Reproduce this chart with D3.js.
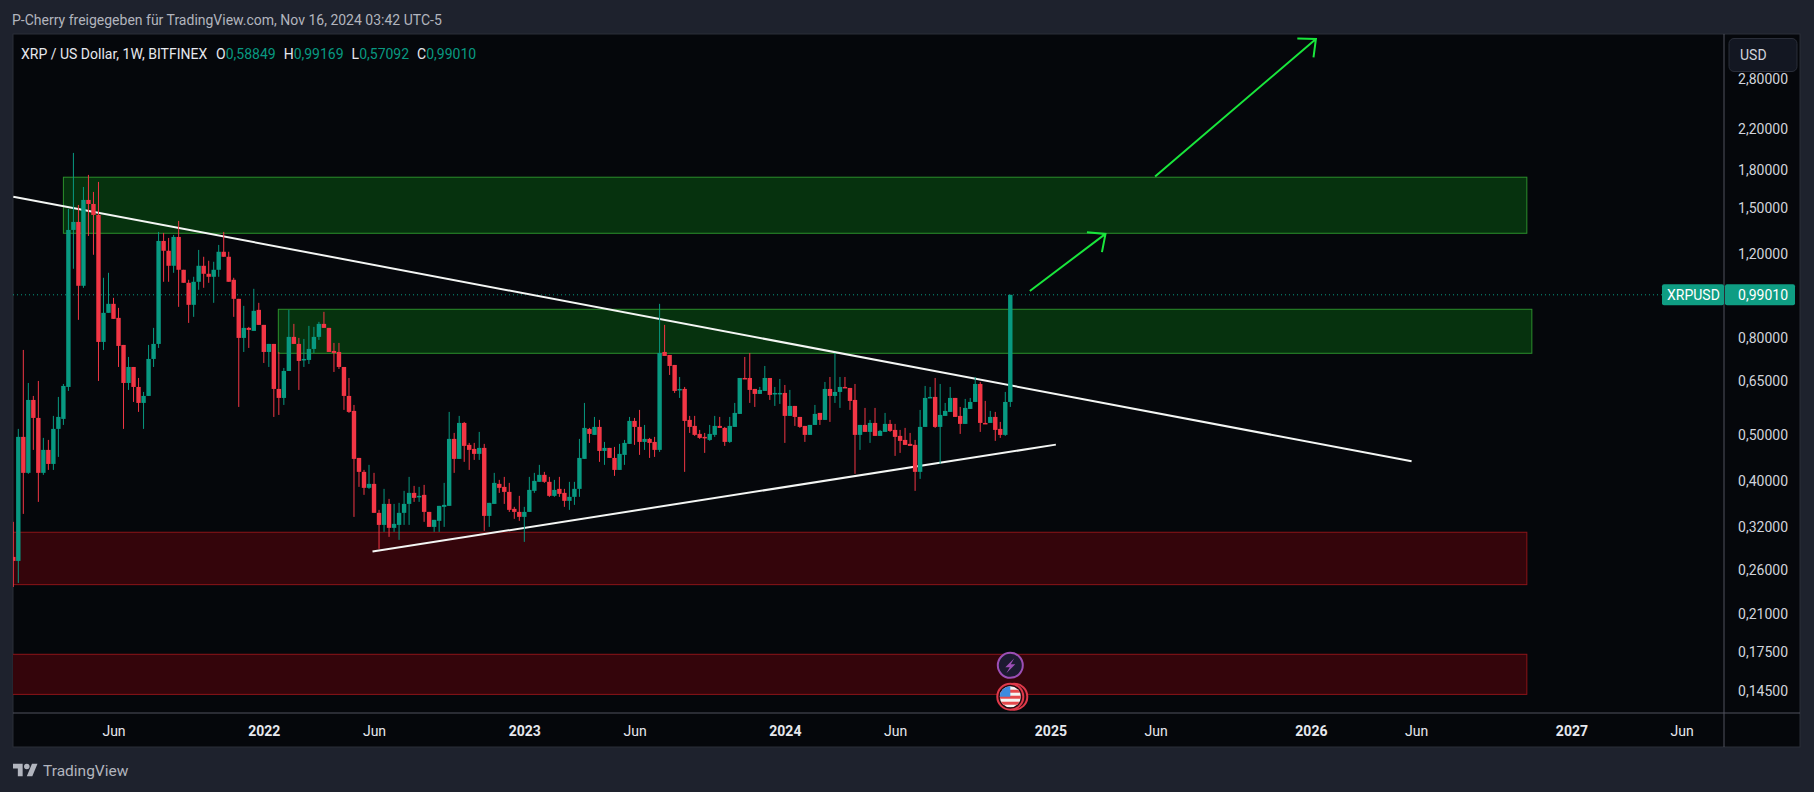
<!DOCTYPE html>
<html>
<head>
<meta charset="utf-8">
<style>
  html, body { margin: 0; padding: 0; background: #1e222d; overflow: hidden; }
  text { font-family: Roboto, sans-serif; }
</style>
</head>
<body>
<div id="chart"></div>
<script src="https://cdn.jsdelivr.net/npm/d3@7"></script>
<script>
// weekly XRPUSD bars (one entry per week)
const opens = [.2771,.2718,.4952,.4161,.5921,.5428,.4161,.4650,.4345,.5147,.5402,.6305,1.3476,1.4008,1.0285,1.558,1.528,1.449,.7839,.9023,
  .9425,.8807,.7726,.6428,.6945,.6305,.5836,.6037,.7220,.7764,1.2777,1.2184,1.1330,1.3027,1.1113,1.0435,.9380,1.0486,1.1330,1.0900,
  1.0743,1.1113,1.2125,1.1835,1.0588,.9656,.7993,.8390,.8269,.9155,.8513,.7468,.7764,.6245,.5979,.6812,.8032,.7764,.7185,.7185,
  .7578,.8032,.8554,.8390,.7505,.7468,.6945,.6037,.5615,.4473,.4181,.3870,.3945,.3429,.3235,.3581,.3189,.3235,.3429,.3581,
  .3777,.3705,.3741,.3445,.3204,.3299,.3530,.3547,.4904,.4452,.5298,.4764,.4672,.4561,.4695,.3379,.3581,.3945,.3888,.3795,
  .3496,.3445,.3363,.3445,.3814,.3984,.4121,.3984,.3723,.3851,.3777,.3634,.3705,.3851,.4452,.5147,.5000,.5197,.4627,.4695,
  .4473,.4221,.4539,.4787,.5350,.5197,.4833,.4904,.4833,.4650,.7468,.7361,.7013,.6215,.6245,.5376,.5222,.5024,.4952,.4880,
  .5000,.5222,.5172,.4833,.5197,.5534,.6585,.6585,.6245,.6096,.6185,.6585,.6096,.6110,.6125,.5481,.5752,.5454,.5222,.5000,
  .5247,.5561,.5376,.6245,.6037,.6155,.6305,.6275,.5921,.5000,.5247,.5073,.5298,.4976,.5073,.5273,.5122,.4976,.4880,.4787,
  .4764,.4181,.5197,.5979,.6008,.5197,.5481,.5588,.5979,.5481,.5273,.5669,.5864,.6397,.5298,.5298,.5454,.5147,.5000,.5864];
const highs = [.3283,.5147,.7541,.6428,.6037,.6491,.4928,.4880,.5481,.6008,.6397,1.4917,1.956,1.5207,1.659,1.7585,1.6195,1.700,1.0691,1.0952,
  .9703,.9244,.7726,.7290,.6945,.6585,.6155,.7726,.8390,1.3346,1.3282,1.2964,1.3153,1.4076,1.1113,1.0588,1.0743,1.2233,1.1835,1.1608,
  1.1552,1.2533,1.3346,1.2125,1.0691,.9656,.9334,.8431,1.0136,.9471,.8513,.7764,.7764,.7468,.6912,.9155,.8554,.7993,.7954,.8472,
  .8431,.8638,.9067,.8390,.7802,.7802,.6945,.6585,.5780,.4473,.4221,.4325,.4161,.3479,.3851,.3669,.3581,.3599,.3814,.4081,
  .3907,.3888,.3926,.3445,.3315,.3547,.3964,.5588,.5048,.5481,.5324,.4810,.4810,.5073,.4787,.3599,.4161,.4022,.4081,.3964,
  .3530,.3723,.3530,.4081,.4161,.4325,.4181,.4081,.4022,.4081,.3851,.3984,.3984,.4904,.5836,.5172,.5454,.5376,.4833,.4695,
  .4718,.4787,.4880,.5454,.5428,.5642,.5247,.4928,.4952,.9425,.8513,.7361,.7013,.6617,.6305,.5481,.5481,.5122,.5048,.5247,
  .5481,.5454,.5197,.5454,.5836,.6585,.7290,.7432,.6245,.6305,.6979,.6585,.6305,.6554,.6366,.6215,.5752,.5454,.5222,.5247,
  .5780,.5561,.6459,.6617,.7432,.6617,.6617,.6275,.6397,.5247,.5697,.5376,.5697,.5122,.5561,.5376,.5273,.5122,.5172,.5048,
  .4880,.5642,.6336,.6305,.6585,.6397,.5836,.6305,.5979,.5724,.5950,.5979,.6617,.6459,.5893,.5615,.5588,.5324,.6155,.9846];
const lows = [.2396,.2443,.3412,.4141,.4650,.3616,.4121,.4221,.4221,.4495,.5247,.6185,1.1167,.8722,1.0185,1.309,1.195,.6491,.7541,.9023,
  .8764,.6945,.5147,.6215,.5864,.5588,.5147,.6037,.6945,.7615,1.0486,1.0486,1.0952,.9289,1.0435,.8596,.8850,1.0087,1.0185,1.0435,
  .9471,1.0743,1.1835,1.0486,.8850,.5724,.7468,.7615,.8269,.8513,.7081,.6945,.5454,.5507,.5780,.6812,.7764,.6215,.6945,.7047,
  .7432,.7916,.8390,.7468,.6779,.6878,.5642,.5561,.3363,.3888,.3741,.3851,.3429,.2881,.3128,.3053,.3128,.3009,.3235,.3235,
  .3616,.3616,.3283,.3204,.3128,.3128,.3204,.3547,.4161,.4452,.4388,.4221,.4430,.4430,.3143,.3204,.3581,.3777,.3581,.3445,
  .3331,.3299,.2980,.3445,.3777,.3984,.3964,.3705,.3705,.3705,.3530,.3479,.3564,.3705,.4452,.4810,.5000,.4388,.4325,.4473,
  .4101,.4221,.4325,.4787,.4764,.4539,.4650,.4473,.4495,.4605,.7325,.6682,.6125,.5979,.4181,.5048,.4976,.4904,.4583,.4857,
  .4952,.5172,.4741,.4810,.5197,.5534,.6554,.5836,.5724,.6096,.6185,.5921,.5752,.5808,.4810,.5481,.5222,.5172,.4833,.5000,
  .5247,.5247,.5376,.5324,.5836,.5697,.6275,.5642,.4141,.4650,.5073,.4810,.4976,.4976,.5073,.5073,.4517,.4583,.4764,.4741,
  .3814,.4042,.5197,.5979,.5172,.4345,.5481,.5588,.5454,.5024,.5273,.5669,.5864,.5073,.5273,.5298,.4857,.4928,.4976,.5724];
const closes = [.2718,.4952,.4161,.5921,.5428,.4161,.4650,.4345,.5147,.5454,.6336,1.3476,1.4008,1.0285,1.558,1.528,1.449,.7839,.9023,.9425,
  .8764,.7689,.6428,.6945,.6305,.5836,.6037,.7220,.7764,1.2777,1.2184,1.1330,1.3027,1.1113,1.0435,.9380,1.0486,1.1330,1.0900,1.0743,
  1.1113,1.2125,1.1835,1.0486,.9656,.7993,.8390,.8309,.9111,.8513,.7468,.7764,.6245,.5979,.6812,.8032,.7764,.7150,.7220,.7578,
  .8032,.8554,.8390,.7468,.7432,.6945,.6037,.5588,.4452,.4181,.3870,.3945,.3429,.3235,.3581,.3189,.3251,.3429,.3581,.3777,
  .3687,.3723,.3445,.3204,.3315,.3547,.3564,.4904,.4452,.5298,.4741,.4650,.4561,.4695,.3379,.3599,.3964,.3870,.3795,.3479,
  .3445,.3363,.3445,.3832,.4003,.4121,.3984,.3723,.3832,.3759,.3634,.3705,.3851,.4473,.5172,.5024,.5197,.4627,.4695,.4473,
  .4221,.4561,.4810,.5350,.5197,.4833,.4904,.4810,.4650,.7432,.7325,.6979,.6185,.6245,.5350,.5197,.5000,.4928,.4928,.5024,
  .5222,.5172,.4833,.5222,.5561,.6585,.6554,.6215,.6096,.6215,.6585,.6066,.6125,.6125,.5481,.5752,.5454,.5197,.5000,.5247,
  .5534,.5376,.6245,.6037,.6155,.6305,.6275,.5893,.5000,.5247,.5073,.5298,.4976,.5097,.5273,.5097,.4952,.4857,.4764,.4741,
  .4181,.5197,.5979,.6008,.5197,.5507,.5615,.5979,.5454,.5273,.5697,.5864,.6397,.5298,.5285,.5454,.5122,.5000,.5864,.9846];

// price axis (log) and time axis
const priceTicks = [2.8, 2.2, 1.8, 1.5, 1.2, 0.8, 0.65, 0.5, 0.4, 0.32, 0.26, 0.21, 0.175, 0.145];
const tickBars = [20, 50, 72, 102, 124, 154, 176, 207, 228, 259, 280, 311, 333];
const tickLabels = ['Jun', '2022', 'Jun', '2023', 'Jun', '2024', 'Jun', '2025', 'Jun', '2026', 'Jun', '2027', 'Jun'];

// drawn zones
const zoneTops = [1.739, 0.918, 0.3122, 0.173];
const zoneBottoms = [1.326, 0.742, 0.2423, 0.1425];
const zoneStarts = [10, 52.9, -2, -2];
const zoneEnds = [302.1, 303.1, 302.1, 302.1];
const zoneKinds = ['green', 'green', 'red', 'red'];

// drawn lines: [bar, price] ends
const trendBars = [[0, 279.1], [71.7, 208.1]];
const trendPrices = [[1.583, 0.440], [0.2843, 0.477]];
const arrowBars = [[202.9, 218.0], [227.9, 260.0]];
const arrowPrices = [[1.003, 1.322], [1.745, 3.395]];

const legendLabels = ['O', 'H', 'L', 'C'];
const legendValues = ['0,58849', '0,99169', '0,57092', '0,99010'];

const width = 1814, height = 792;
const paneLeft = 13, paneTop = 34, paneRight = 1724, axisRight = 1800, paneBottom = 713, axisBottom = 747;
const up = '#089981', down = '#f23645', paneColor = '#05070b', lineColor = '#2a2e39';

let svg = d3.select('#chart').append('svg').attr('width', width).attr('height', height)
  .style('display', 'block');

let x = d3.scaleLinear().domain([0, 199]).range([13.3, 1010.3]);
let y = d3.scaleLog().domain([3.46, 0.1296]).range([35, 714]);

// frame
svg.append('rect').attr('width', width).attr('height', height).attr('fill', '#1e222d');
svg.append('rect').attr('x', paneLeft).attr('y', paneTop)
  .attr('width', axisRight - paneLeft).attr('height', axisBottom - paneTop)
  .attr('fill', paneColor).attr('stroke', lineColor);

svg.append('text').attr('x', 12).attr('y', 25).attr('fill', '#b2b5be').attr('font-size', 14)
  .text('P-Cherry freigegeben für TradingView.com, Nov 16, 2024 03:42 UTC-5');

svg.append('clipPath').attr('id', 'pane').append('rect')
  .attr('x', paneLeft).attr('y', paneTop)
  .attr('width', paneRight - paneLeft).attr('height', paneBottom - paneTop);
let plot = svg.append('g').attr('clip-path', 'url(#pane)');

// last price line sits under everything
let lastY = y(closes[closes.length - 1]);
plot.append('line').attr('x1', paneLeft).attr('x2', 1662).attr('y1', lastY).attr('y2', lastY)
  .attr('stroke', up).attr('stroke-dasharray', '1 3');

plot.selectAll('.zone').data(zoneTops).enter().append('rect')
  .attr('class', 'zone')
  .attr('x', (d, i) => x(zoneStarts[i]))
  .attr('y', d => y(d))
  .attr('width', (d, i) => x(zoneEnds[i]) - x(zoneStarts[i]))
  .attr('height', (d, i) => y(zoneBottoms[i]) - y(d))
  .attr('fill', (d, i) => zoneKinds[i] == 'green' ? '#06320e' : '#34050b')
  .attr('stroke', (d, i) => zoneKinds[i] == 'green' ? '#2c8f2c' : '#8c1418');

plot.selectAll('.trend').data(trendBars).enter().append('line')
  .attr('class', 'trend')
  .attr('x1', d => x(d[0])).attr('x2', d => x(d[1]))
  .attr('y1', (d, i) => y(trendPrices[i][0])).attr('y2', (d, i) => y(trendPrices[i][1]))
  .attr('stroke', '#f4f6f4').attr('stroke-width', 2);

// candles
let candles = plot.selectAll('.candle').data(opens).enter().append('g').attr('class', 'candle')
  .attr('fill', (d, i) => closes[i] >= d ? up : down)
  .attr('stroke', (d, i) => closes[i] >= d ? up : down);
candles.append('line')
  .attr('x1', (d, i) => x(i)).attr('x2', (d, i) => x(i))
  .attr('y1', (d, i) => y(highs[i])).attr('y2', (d, i) => y(lows[i]));
candles.append('rect')
  .attr('stroke', 'none')
  .attr('x', (d, i) => x(i) - 2.2).attr('width', 4.4)
  .attr('y', (d, i) => y(Math.max(d, closes[i])))
  .attr('height', (d, i) => Math.max(1.5, Math.abs(y(d) - y(closes[i]))));

// arrows, head drawn from the shaft angle
let arrows = plot.selectAll('.arrow').data(arrowBars).enter().append('g').attr('class', 'arrow')
  .attr('stroke', '#19e63c').attr('stroke-width', 2).attr('fill', 'none');
arrows.append('path').attr('d', (d, i) => {
  let x0 = x(d[0]), y0 = y(arrowPrices[i][0]), x1 = x(d[1]), y1 = y(arrowPrices[i][1]);
  let a = Math.atan2(y1 - y0, x1 - x0), s = 42 * Math.PI / 180, l = 18.6;
  return 'M' + x0 + ',' + y0 + 'L' + x1 + ',' + y1 +
    'M' + (x1 - l * Math.cos(a - s)) + ',' + (y1 - l * Math.sin(a - s)) + 'L' + x1 + ',' + y1 +
    'L' + (x1 - l * Math.cos(a + s)) + ',' + (y1 - l * Math.sin(a + s));
});

// event markers under the last bar
let boltX = x(199), boltY = y(0.164), flagY = y(0.1409);
let bolt = plot.append('g').attr('transform', 'translate(' + boltX + ',' + boltY + ')');
bolt.append('circle').attr('r', 12.5).attr('fill', '#1c1a30').attr('stroke', '#9c4fb5').attr('stroke-width', 2);
bolt.append('path').attr('d', 'M4,-7L-5,2H-0.5L-4,8L5,-1H0.5Z').attr('fill', '#9c4fb5');

let flag = plot.append('g').attr('transform', 'translate(' + boltX + ',' + flagY + ')');
flag.append('circle').attr('cx', 4).attr('r', 13).attr('fill', '#2a0a10').attr('stroke', '#e0394a').attr('stroke-width', 2);
flag.append('circle').attr('r', 13).attr('fill', '#2a0a10').attr('stroke', '#e0394a').attr('stroke-width', 2);
svg.append('clipPath').attr('id', 'flagclip').append('circle').attr('r', 10.5);
let flagBody = flag.append('g').attr('clip-path', 'url(#flagclip)');
flagBody.append('rect').attr('x', -11).attr('y', -11).attr('width', 22).attr('height', 22).attr('fill', '#f5f5f5');
flagBody.selectAll('.stripe').data([-7, -1, 5]).enter().append('rect')
  .attr('class', 'stripe').attr('x', -11).attr('y', d => d).attr('width', 22).attr('height', 3).attr('fill', '#e5484d');
flagBody.append('rect').attr('x', -11).attr('y', -11).attr('width', 11).attr('height', 11).attr('fill', '#3d8be0');

// axes
let yAxis = svg.append('g').attr('transform', 'translate(' + paneRight + ',0)')
  .call(d3.axisRight(y).tickValues(priceTicks).tickSize(0).tickPadding(0)
    .tickFormat(d => d.toFixed(5).replace('.', ',')));
yAxis.select('.domain').remove();
yAxis.selectAll('text').attr('x', 64).attr('text-anchor', 'end')
  .attr('font-family', 'Roboto, sans-serif').attr('font-size', 14).attr('fill', '#d1d4dc');

let xAxis = svg.append('g').attr('transform', 'translate(0,' + paneBottom + ')')
  .call(d3.axisBottom(x).tickValues(tickBars).tickSize(0).tickPadding(0)
    .tickFormat((d, i) => tickLabels[i]));
xAxis.select('.domain').remove();
xAxis.selectAll('text').attr('y', 23).attr('dy', 0)
  .attr('font-family', 'Roboto, sans-serif').attr('font-size', 14).attr('fill', '#e6e8ee')
  .attr('font-weight', d => tickLabels[tickBars.indexOf(d)] == 'Jun' ? 400 : 700);

svg.append('line').attr('x1', paneLeft).attr('x2', axisRight).attr('y1', paneBottom).attr('y2', paneBottom).attr('stroke', '#50535e');
svg.append('line').attr('x1', paneRight).attr('x2', paneRight).attr('y1', paneTop).attr('y2', axisBottom).attr('stroke', '#50535e');

// currency button
svg.append('rect').attr('x', 1729).attr('y', 38.5).attr('width', 68).attr('height', 33).attr('rx', 5)
  .attr('fill', '#131722').attr('stroke', '#2a2e39');
svg.append('text').attr('x', 1740).attr('y', 60).attr('fill', '#d1d4dc').attr('font-size', 14).text('USD');

// last price tag
svg.append('rect').attr('x', 1662).attr('y', lastY - 10.5).attr('width', 62).attr('height', 21).attr('rx', 2).attr('fill', '#0f9d83');
svg.append('rect').attr('x', 1725).attr('y', lastY - 10.5).attr('width', 70).attr('height', 21).attr('rx', 2).attr('fill', '#0f9d83');
svg.append('text').attr('x', 1667).attr('y', lastY + 5).attr('fill', '#fff').attr('font-size', 14).text('XRPUSD');
svg.append('text').attr('x', 1788).attr('y', lastY + 5).attr('text-anchor', 'end').attr('fill', '#fff').attr('font-size', 14).text(legendValues[3]);

// legend
let legend = svg.append('text').attr('x', 21).attr('y', 59).attr('font-size', 14).attr('fill', '#e6e8ee');
legend.append('tspan').text('XRP / US Dollar, 1W, BITFINEX');
legendLabels.forEach(function(label, i) {
  legend.append('tspan').attr('dx', i == 0 ? 9 : 8).text(label);
  legend.append('tspan').attr('fill', up).text(legendValues[i]);
});

// logo
let logo = svg.append('g').attr('transform', 'translate(13,761) scale(.69)').attr('fill', '#b2b5be');
logo.append('path').attr('d', 'M14 22H7V11H0V4h14v18zM28 22h-8l7.5-18h8L28 22z');
logo.append('circle').attr('cx', 20).attr('cy', 8).attr('r', 4);
svg.append('text').attr('x', 43).attr('y', 776).attr('fill', '#b2b5be').attr('font-size', 15.5).text('TradingView');
</script>
</body>
</html>
